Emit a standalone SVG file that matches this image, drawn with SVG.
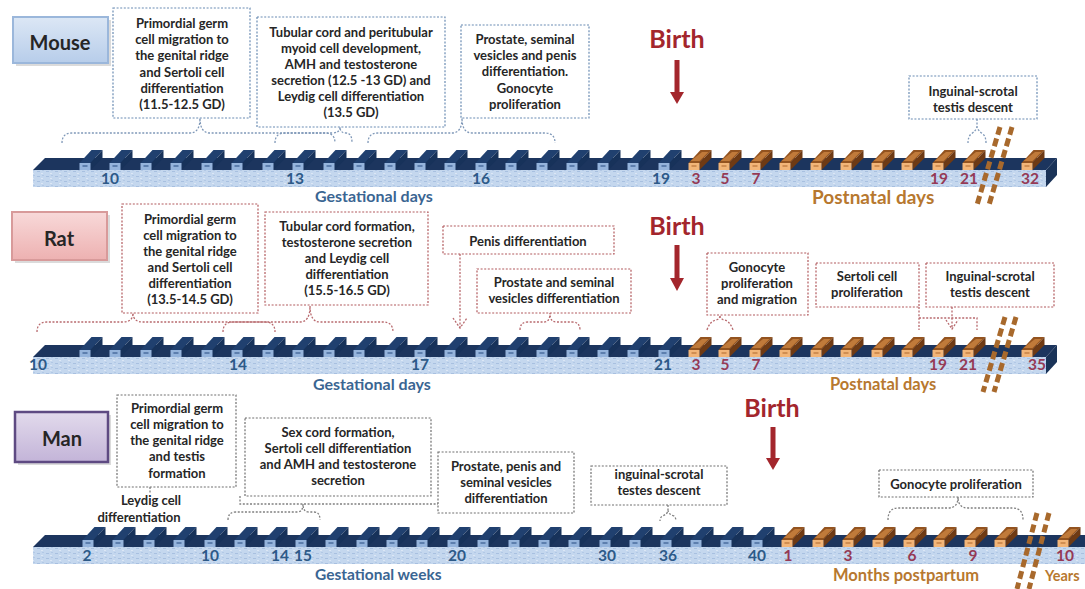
<svg xmlns="http://www.w3.org/2000/svg" xmlns:xlink="http://www.w3.org/1999/xlink" width="1085" height="589" viewBox="0 0 1085 589">
<style>
text{font-family:Lato,"Liberation Sans",sans-serif;font-weight:700}
.t{font-size:13px;fill:#262626;text-anchor:middle}
.sp{font-size:20px;fill:#262626;text-anchor:middle}
.num{font-size:15.5px;text-anchor:middle}
.g{fill:#2D5A88}
.p{fill:#953A55}
.birth{font-size:25px;fill:#A3262C;text-anchor:middle}
.gl{fill:#3A6592}
.pl{fill:#B7782F}
.bm{fill:#fff;stroke:#6A8CB3;stroke-width:1.2;stroke-dasharray:2 1.6}
.br{fill:#fff;stroke:#B25A5E;stroke-width:1.2;stroke-dasharray:2 1.6}
.bg{fill:#fff;stroke:#707070;stroke-width:1.2;stroke-dasharray:2 1.6}
.cm{fill:none;stroke:#7F98B8;stroke-width:1.3;stroke-dasharray:2 1.6}
.cr{fill:none;stroke:#B86A6E;stroke-width:1.3;stroke-dasharray:2 1.6}
.cg{fill:none;stroke:#808080;stroke-width:1.3;stroke-dasharray:2 1.6}
.brk{fill:none;stroke:#A8692C;stroke-width:5;stroke-dasharray:8 4}
.arr{fill:#A3262C}
</style>
<defs>
<pattern id="st" width="9" height="5" patternUnits="userSpaceOnUse">
<rect width="9" height="5" fill="#C4D7EE"/>
<rect x="1" y="1" width="3" height="1" fill="#A8C0E0"/>
<rect x="5" y="3" width="2" height="1" fill="#DCE7F5"/>
<rect x="6" y="0" width="2" height="1" fill="#B2C8E5"/>
</pattern>
<g id="tb">
<polygon points="-5.5,163 5.5,163 17.5,150 6.5,150" fill="#20406F"/>
<polygon points="5.5,163 17.5,150 17.5,158 5.5,170" fill="#17325A"/>
<rect x="-5.5" y="163" width="11" height="7" fill="#95B4DC"/>
<rect x="-2.5" y="165" width="5" height="2" fill="#5D7FAE"/>
</g>
<g id="tr">
<polygon points="-5.5,163 5.5,163 17.5,150 6.5,150" fill="#93531F"/>
<polygon points="5.5,163 17.5,150 17.5,158 5.5,170" fill="#6E3A14"/>
<polygon points="-3.5,161 5.5,161 14.5,152 8,152" fill="#C07A3A"/>
<rect x="-5.5" y="163" width="11" height="7" fill="#F2B578"/>
<rect x="-2.5" y="165" width="5" height="2" fill="#D08E52"/>
</g>
<linearGradient id="gm" x1="0" y1="0" x2="0" y2="1"><stop offset="0" stop-color="#DCE7F5"/><stop offset="1" stop-color="#B7CDEA"/></linearGradient>
<linearGradient id="gr" x1="0" y1="0" x2="0" y2="1"><stop offset="0" stop-color="#F8D9D9"/><stop offset="1" stop-color="#EDB1B1"/></linearGradient>
<linearGradient id="gp" x1="0" y1="0" x2="0" y2="1"><stop offset="0" stop-color="#E2DAEC"/><stop offset="1" stop-color="#C3B4D8"/></linearGradient>
</defs>
<rect width="1085" height="589" fill="#fff"/>

<!-- Mouse bar -->
<g id="bar-mouse">
<polygon points="33,170 1046,170 1057,158 45,158" fill="#1C355E"/>
<rect x="33" y="170" width="1013" height="17" fill="url(#st)"/>
<polygon points="1046,170 1057,158 1057,175 1046,187" fill="#1A3358"/>
<use xlink:href="#tb" x="85"/><use xlink:href="#tb" x="115"/><use xlink:href="#tb" x="146"/><use xlink:href="#tb" x="176"/><use xlink:href="#tb" x="207"/><use xlink:href="#tb" x="237"/><use xlink:href="#tb" x="268"/><use xlink:href="#tb" x="298"/><use xlink:href="#tb" x="329"/><use xlink:href="#tb" x="359"/><use xlink:href="#tb" x="390"/><use xlink:href="#tb" x="420"/><use xlink:href="#tb" x="450"/><use xlink:href="#tb" x="481"/><use xlink:href="#tb" x="511"/><use xlink:href="#tb" x="542"/><use xlink:href="#tb" x="572"/><use xlink:href="#tb" x="603"/><use xlink:href="#tb" x="633"/><use xlink:href="#tb" x="664"/>
<use xlink:href="#tr" x="694"/><use xlink:href="#tr" x="724"/><use xlink:href="#tr" x="755"/><use xlink:href="#tr" x="785"/><use xlink:href="#tr" x="816"/><use xlink:href="#tr" x="846"/><use xlink:href="#tr" x="877"/><use xlink:href="#tr" x="907"/><use xlink:href="#tr" x="938"/><use xlink:href="#tr" x="968"/><use xlink:href="#tr" x="1027"/>
<text class="num g" x="110" y="184">10</text><text class="num g" x="295" y="184">13</text><text class="num g" x="481" y="184">16</text><text class="num g" x="661" y="184">19</text>
<text class="num p" x="696" y="184">3</text><text class="num p" x="725" y="184">5</text><text class="num p" x="756" y="184">7</text><text class="num p" x="939" y="184">19</text><text class="num p" x="969" y="184">21</text><text class="num p" x="1030" y="184">32</text>
<text class="gl" x="315" y="202" font-size="16">Gestational days</text>
<text class="pl" x="812" y="204" font-size="19">Postnatal days</text>
<path class="brk" d="M1000,127 L977,205 M1012,127 L989,205"/>
</g>

<!-- Rat bar -->
<g id="bar-rat" transform="translate(0,187)">
<polygon points="33,170 1046,170 1057,158 45,158" fill="#1C355E"/>
<rect x="33" y="170" width="1013" height="17" fill="url(#st)"/>
<polygon points="1046,170 1057,158 1057,175 1046,187" fill="#1A3358"/>
<use xlink:href="#tb" x="85"/><use xlink:href="#tb" x="115"/><use xlink:href="#tb" x="146"/><use xlink:href="#tb" x="176"/><use xlink:href="#tb" x="207"/><use xlink:href="#tb" x="237"/><use xlink:href="#tb" x="268"/><use xlink:href="#tb" x="298"/><use xlink:href="#tb" x="329"/><use xlink:href="#tb" x="359"/><use xlink:href="#tb" x="390"/><use xlink:href="#tb" x="420"/><use xlink:href="#tb" x="450"/><use xlink:href="#tb" x="481"/><use xlink:href="#tb" x="511"/><use xlink:href="#tb" x="542"/><use xlink:href="#tb" x="572"/><use xlink:href="#tb" x="603"/><use xlink:href="#tb" x="633"/><use xlink:href="#tb" x="664"/>
<use xlink:href="#tr" x="694"/><use xlink:href="#tr" x="724"/><use xlink:href="#tr" x="755"/><use xlink:href="#tr" x="785"/><use xlink:href="#tr" x="816"/><use xlink:href="#tr" x="846"/><use xlink:href="#tr" x="877"/><use xlink:href="#tr" x="907"/><use xlink:href="#tr" x="938"/><use xlink:href="#tr" x="968"/><use xlink:href="#tr" x="1027"/>
<text class="num g" x="38" y="183">10</text><text class="num g" x="238" y="183">14</text><text class="num g" x="420" y="183">17</text><text class="num g" x="663" y="183">21</text>
<text class="num p" x="696" y="183">3</text><text class="num p" x="725" y="183">5</text><text class="num p" x="756" y="183">7</text><text class="num p" x="938" y="183">19</text><text class="num p" x="968" y="183">21</text><text class="num p" x="1037" y="183">35</text>
<text class="gl" x="313" y="203" font-size="16">Gestational days</text>
<text class="pl" x="830" y="203" font-size="16.5">Postnatal days</text>
<path class="brk" d="M1005,130 L983,205 M1016,130 L994,205"/>
</g>

<!-- Man bar -->
<g id="bar-man" transform="translate(0,377)">
<polygon points="33,170 1090,170 1090,158 45,158" fill="#1C355E"/>
<rect x="33" y="170" width="1057" height="17" fill="url(#st)"/>
<use xlink:href="#tb" x="88"/><use xlink:href="#tb" x="118"/><use xlink:href="#tb" x="149"/><use xlink:href="#tb" x="179"/><use xlink:href="#tb" x="210"/><use xlink:href="#tb" x="240"/><use xlink:href="#tb" x="270"/><use xlink:href="#tb" x="301"/><use xlink:href="#tb" x="331"/><use xlink:href="#tb" x="362"/><use xlink:href="#tb" x="392"/><use xlink:href="#tb" x="422"/><use xlink:href="#tb" x="453"/><use xlink:href="#tb" x="483"/><use xlink:href="#tb" x="514"/><use xlink:href="#tb" x="544"/><use xlink:href="#tb" x="574"/><use xlink:href="#tb" x="605"/><use xlink:href="#tb" x="635"/><use xlink:href="#tb" x="666"/><use xlink:href="#tb" x="696"/><use xlink:href="#tb" x="726"/><use xlink:href="#tb" x="757"/>
<use xlink:href="#tr" x="787"/><use xlink:href="#tr" x="818"/><use xlink:href="#tr" x="848"/><use xlink:href="#tr" x="878"/><use xlink:href="#tr" x="909"/><use xlink:href="#tr" x="939"/><use xlink:href="#tr" x="970"/><use xlink:href="#tr" x="1000"/><use xlink:href="#tr" x="1063"/>
<text class="num g" x="87" y="184">2</text><text class="num g" x="210" y="184">10</text><text class="num g" x="280" y="184">14</text><text class="num g" x="303" y="184">15</text><text class="num g" x="457" y="184">20</text><text class="num g" x="607" y="184">30</text><text class="num g" x="668" y="184">36</text><text class="num g" x="757" y="184">40</text>
<text class="num p" x="788" y="184">1</text><text class="num p" x="848" y="184">3</text><text class="num p" x="912" y="184">6</text><text class="num p" x="973" y="184">9</text><text class="num p" x="1065" y="184">10</text>
<text class="gl" x="315" y="203" font-size="15.5">Gestational weeks</text>
<text class="pl" x="833" y="204" font-size="16.5">Months postpartum</text>
<text class="pl" x="1045" y="204" font-size="14.5">Years</text>
<path class="brk" d="M1037,136 L1017,212 M1049,136 L1029,212"/>
</g>

<!-- species labels -->
<g id="label-mouse">
<rect x="16" y="20" width="95" height="46" fill="#999" opacity="0.35"/>
<rect x="13" y="17" width="95" height="46" fill="url(#gm)" stroke="#9BB7DB" stroke-width="2"/>
<text class="sp" x="60" y="50">Mouse</text>
</g>
<g id="label-rat">
<rect x="15" y="215" width="95" height="48" fill="#999" opacity="0.35"/>
<rect x="12" y="212" width="95" height="48" fill="url(#gr)" stroke="#D89A9A" stroke-width="2"/>
<text class="sp" x="59" y="246">Rat</text>
</g>
<g id="label-man">
<rect x="18" y="415" width="93" height="50" fill="#999" opacity="0.35"/>
<rect x="15" y="412" width="93" height="50" fill="url(#gp)" stroke="#5E4A82" stroke-width="2.5"/>
<text class="sp" x="62" y="446">Man</text>
</g>

<!-- birth -->
<g id="birth-mouse">
<text class="birth" x="677" y="48">Birth</text>
<rect class="arr" x="674.5" y="60" width="5" height="34"/><polygon class="arr" points="670,92 684,92 677,104"/>
</g>
<g id="birth-rat">
<text class="birth" x="677" y="235">Birth</text>
<rect class="arr" x="674.5" y="245" width="5" height="35"/><polygon class="arr" points="670,278 684,278 677,291"/>
</g>
<g id="birth-man">
<text class="birth" x="772" y="417">Birth</text>
<rect class="arr" x="770.5" y="427" width="5" height="33"/><polygon class="arr" points="766,458 780,458 773,470"/>
</g>

<!-- connectors -->
<g id="connectors">
<path class="cm" d="M62,143 Q62,133 72,133 L190,133 Q200,133 200,118 Q200,133 210,133 L325,133 Q335,133 335,143"/>
<path class="cm" d="M275,143 Q275,133 285,133 L332,133 Q340,133 340,127 Q340,133 346,133 Q352,133 352,143"/>
<path class="cm" d="M368,143 Q368,133 378,133 L452,133 Q462,133 462,118 Q462,133 472,133 L545,133 Q555,133 555,143"/>
<path class="cm" d="M977,119 L977,126 Q977,130 971,134 Q968,137 968,143 M977,126 Q977,130 983,134 Q986,137 986,143"/>
<path class="cr" d="M37,332 Q37,322 47,322 L123,322 Q133,322 133,313 Q133,322 143,322 L265,322 Q275,322 275,332"/>
<path class="cr" d="M223,332 Q223,322 233,322 L300,322 Q310,322 310,306 Q310,322 320,322 L383,322 Q393,322 393,332"/>
<path class="cr" d="M460,254 L460,328 M453,318 L460,328 L467,318"/>
<path class="cr" d="M520,330 Q520,322 528,322 L544,322 Q550,322 550,313 Q550,322 556,322 L572,322 Q580,322 580,330"/>
<path class="cr" d="M707,330 Q710,321 716,320 Q720,319 720,315 Q720,319 724,320 Q730,321 733,330"/>
<path class="cr" d="M919,307 L919,330 M919,318 L977,318 L977,330"/>
<path class="cr" d="M952,307 L952,329 M946,320 L952,329 L958,320"/>
<path class="cg" d="M150,487 L150,493"/>
<path class="cg" d="M240,496 L240,504 L438,504"/>
<path class="cg" d="M228,520 Q228,512 236,512 L297,512 Q303,512 303,504 Q303,512 309,512 L314,512 Q320,512 320,520"/>
<path class="cg" d="M668,505 L668,510 Q668,514 662,516 Q660,518 660,521 M668,510 Q668,514 674,516 Q676,518 676,521"/>
<path class="cg" d="M888,520 Q888,508 898,508 L948,508 Q958,508 958,497 Q958,508 968,508 L1013,508 Q1023,508 1023,520"/>
</g>

<!-- Mouse boxes -->
<g id="m1"><rect class="bm" x="113" y="8" width="137" height="110"/>
<text class="t" x="182" y="28">Primordial germ</text><text class="t" x="182" y="44">cell migration to</text><text class="t" x="182" y="60">the genital ridge</text><text class="t" x="182" y="77">and Sertoli cell</text><text class="t" x="182" y="93">differentiation</text><text class="t" x="182" y="109">(11.5-12.5 GD)</text></g>
<g id="m2"><rect class="bm" x="257" y="17" width="188" height="110"/>
<text class="t" x="351" y="37">Tubular cord and peritubular</text><text class="t" x="351" y="53">myoid cell development,</text><text class="t" x="351" y="69">AMH and testosterone</text><text class="t" x="351" y="85">secretion (12.5 -13 GD) and</text><text class="t" x="351" y="101">Leydig cell differentiation</text><text class="t" x="351" y="117">(13.5 GD)</text></g>
<g id="m3"><rect class="bm" x="461" y="25" width="128" height="93"/>
<text class="t" x="525" y="44">Prostate, seminal</text><text class="t" x="525" y="60">vesicles and penis</text><text class="t" x="525" y="76">differentiation.</text><text class="t" x="525" y="93">Gonocyte</text><text class="t" x="525" y="109">proliferation</text></g>
<g id="m4"><rect class="bm" x="909" y="76" width="128" height="43"/>
<text class="t" x="973" y="96">Inguinal-scrotal</text><text class="t" x="973" y="112">testis descent</text></g>

<!-- Rat boxes -->
<g id="r1"><rect class="br" x="122" y="204" width="136" height="109"/>
<text class="t" x="190" y="224">Primordial germ</text><text class="t" x="190" y="240">cell migration to</text><text class="t" x="190" y="256">the genital ridge</text><text class="t" x="190" y="272">and Sertoli cell</text><text class="t" x="190" y="288">differentiation</text><text class="t" x="190" y="304">(13.5-14.5 GD)</text></g>
<g id="r2"><rect class="br" x="265" y="212" width="163" height="93"/>
<text class="t" x="347" y="231">Tubular cord formation,</text><text class="t" x="347" y="247">testosterone  secretion</text><text class="t" x="347" y="263">and Leydig cell</text><text class="t" x="347" y="279">differentiation</text><text class="t" x="347" y="295">(15.5-16.5 GD)</text></g>
<g id="r3"><rect class="br" x="443" y="226" width="171" height="28"/>
<text class="t" x="528" y="246">Penis differentiation</text></g>
<g id="r4"><rect class="br" x="477" y="269" width="154" height="44"/>
<text class="t" x="554" y="287">Prostate and seminal</text><text class="t" x="554" y="303">vesicles differentiation</text></g>
<g id="r5"><rect class="br" x="707" y="253" width="101" height="62"/>
<text class="t" x="757" y="272">Gonocyte</text><text class="t" x="757" y="288">proliferation</text><text class="t" x="757" y="304">and migration</text></g>
<g id="r6"><rect class="br" x="816" y="263" width="103" height="44"/>
<text class="t" x="867" y="281">Sertoli cell</text><text class="t" x="867" y="297">proliferation</text></g>
<g id="r7"><rect class="br" x="926" y="263" width="128" height="44"/>
<text class="t" x="990" y="281">Inguinal-scrotal</text><text class="t" x="990" y="297">testis descent</text></g>

<!-- Man boxes -->
<g id="h1"><rect class="bg" x="117" y="395" width="119" height="92"/>
<text class="t" x="177" y="413">Primordial germ</text><text class="t" x="177" y="429">cell migration to</text><text class="t" x="177" y="445">the genital ridge</text><text class="t" x="177" y="461">and testis</text><text class="t" x="177" y="478">formation</text></g>
<g id="h1b"><text class="t" x="151" y="505">Leydig cell</text><text class="t" x="139" y="522">differentiation</text></g>
<g id="h2"><rect class="bg" x="245" y="418" width="186" height="78"/>
<text class="t" x="338" y="437">Sex cord formation,</text><text class="t" x="338" y="453">Sertoli cell differentiation</text><text class="t" x="338" y="469">and AMH and testosterone</text><text class="t" x="338" y="485">secretion</text></g>
<g id="h3"><rect class="bg" x="438" y="452" width="136" height="61"/>
<text class="t" x="506" y="471">Prostate, penis and</text><text class="t" x="506" y="487">seminal vesicles</text><text class="t" x="506" y="503">differentiation</text></g>
<g id="h4"><rect class="bg" x="591" y="466" width="136" height="39"/>
<text class="t" x="659" y="479">inguinal-scrotal</text><text class="t" x="659" y="495">testes descent</text></g>
<g id="h5"><rect class="bg" x="879" y="470" width="154" height="27"/>
<text class="t" x="956" y="489">Gonocyte proliferation</text></g>
</svg>
